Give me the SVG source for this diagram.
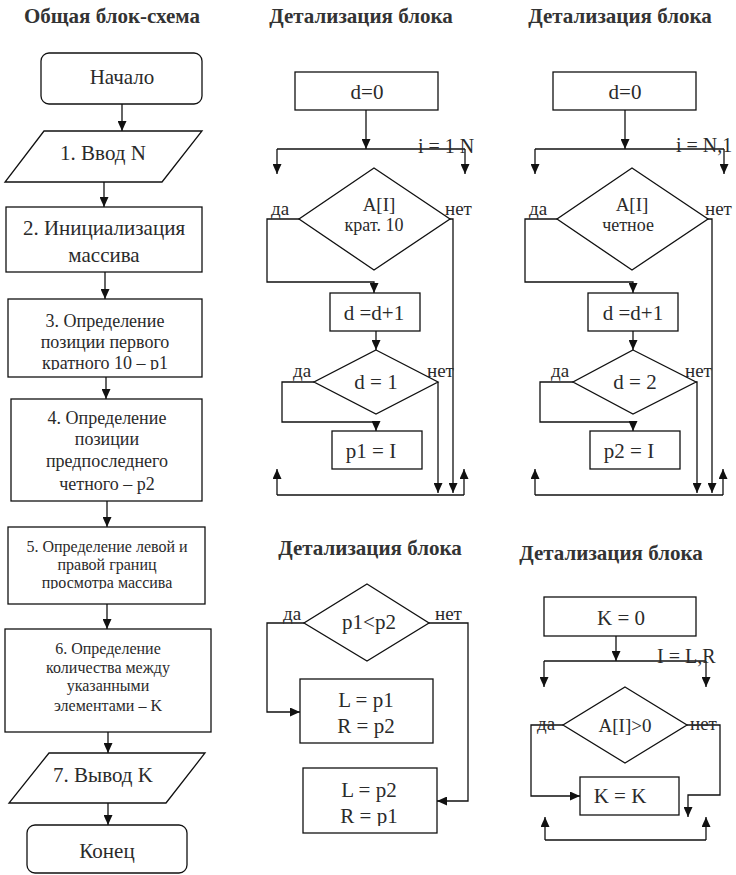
<svg xmlns="http://www.w3.org/2000/svg" width="736" height="875" viewBox="0 0 736 875">
  <style>
    .shape { fill: #fff; stroke: #111; stroke-width: 1.3; }
    .wire { fill: none; stroke: #111; stroke-width: 1.3; }
    .arrow { marker-end: url(#head); }
    text { font-family: "Liberation Serif", Tinos, "Times New Roman", Times, "DejaVu Serif", serif; fill: #2a2a2a; }
    .title { font-size: 21px; font-weight: bold; text-anchor: middle; fill: #333; }
    .big { font-size: 21px; text-anchor: middle; }
    .mid { font-size: 18px; text-anchor: middle; }
    .small { font-size: 16px; text-anchor: middle; }
    .op { font-size: 21px; text-anchor: middle; }
    .cond1 { font-size: 19px; text-anchor: middle; }
    .cond2 { font-size: 18px; text-anchor: middle; }
    .lbl { font-size: 19px; }
    .loop { font-size: 20px; }
  </style>
  <defs>
    <marker id="head" markerWidth="10" markerHeight="9" refX="10" refY="4.5" orient="auto" markerUnits="userSpaceOnUse">
      <path d="M0,0 L10,4.5 L0,9 z" fill="#111"/>
    </marker>
    <clipPath id="clip3"><rect x="0" y="299" width="240" height="71"/></clipPath>
    <clipPath id="clip5"><rect x="0" y="527" width="240" height="62"/></clipPath>
    <clipPath id="clipLR"><rect x="300" y="768" width="140" height="58"/></clipPath>
  </defs>

  <!-- headings -->
  <text class="title" x="112" y="23">Общая блок-схема</text>
  <text class="title" x="361" y="23">Детализация блока</text>
  <text class="title" x="620" y="23">Детализация блока</text>
  <text class="title" x="370" y="555">Детализация блока</text>
  <text class="title" x="611" y="560">Детализация блока</text>

  <!-- general flowchart -->
  <g id="start">
    <rect class="shape" x="41" y="53" width="161" height="51" rx="8"/>
    <text class="big" x="122" y="84">Начало</text>
  </g>
  <g id="input-n">
    <polygon class="shape" points="44,131 202,131 162,182 5,182"/>
    <text class="big" x="103" y="160">1. Ввод N</text>
  </g>
  <g id="init-array">
    <rect class="shape" x="6" y="207" width="196" height="65"/>
    <text class="big" x="104" y="235">2. Инициализация</text>
    <text class="big" x="104" y="262">массива</text>
  </g>
  <g id="find-p1">
    <rect class="shape" x="8" y="299" width="194" height="78"/>
    <g clip-path="url(#clip3)">
      <text class="mid" x="105" y="327">3. Определение</text>
      <text class="mid" x="105" y="348">позиции первого</text>
      <text class="mid" x="105" y="369">кратного 10 – p1</text>
    </g>
  </g>
  <g id="find-p2">
    <rect class="shape" x="11" y="399" width="191" height="102"/>
    <text class="mid" x="107" y="424">4. Определение</text>
    <text class="mid" x="107" y="445">позиции</text>
    <text class="mid" x="107" y="467">предпоследнего</text>
    <text class="mid" x="107" y="490">четного – p2</text>
  </g>
  <g id="find-bounds">
    <rect class="shape" x="8" y="527" width="197" height="77"/>
    <g clip-path="url(#clip5)">
      <text class="small" x="107" y="552">5. Определение левой и</text>
      <text class="small" x="107" y="570">правой границ</text>
      <text class="small" x="107" y="588">просмотра массива</text>
    </g>
  </g>
  <g id="count-k">
    <rect class="shape" x="5" y="629" width="206" height="103"/>
    <text class="small" x="108" y="654">6. Определение</text>
    <text class="small" x="108" y="673">количества между</text>
    <text class="small" x="108" y="691">указанными</text>
    <text class="small" x="108" y="711">элементами – K</text>
  </g>
  <g id="output-k">
    <polygon class="shape" points="49,753 205,753 166,803 9,803"/>
    <text class="big" x="103" y="782">7. Вывод K</text>
  </g>
  <g id="end">
    <rect class="shape" x="27" y="825" width="160" height="48" rx="8"/>
    <text class="big" x="107" y="858">Конец</text>
  </g>

  <!-- block 3 detail -->
  <g id="a-d0">
    <rect class="shape" x="295" y="72" width="143" height="38"/>
    <text class="op" x="367" y="99">d=0</text>
  </g>
  <g id="a-mult10">
    <polygon class="shape" points="374,168 450,219 374,270 299,219"/>
    <text class="cond1" x="379" y="211">A[I]</text>
    <text class="cond2" x="374" y="231">крат. 10</text>
  </g>
  <g id="a-inc">
    <rect class="shape" x="330" y="293" width="90" height="38"/>
    <text class="op" x="374" y="320">d =d+1</text>
  </g>
  <g id="a-d1">
    <polygon class="shape" points="376,350 438,382 376,414 314,382"/>
    <text class="op" x="376" y="389">d = 1</text>
  </g>
  <g id="a-p1">
    <rect class="shape" x="332" y="431" width="90" height="38"/>
    <text class="op" x="371" y="458">p1 = I</text>
  </g>

  <!-- block 4 detail -->
  <g id="b-d0">
    <rect class="shape" x="553" y="72" width="143" height="38"/>
    <text class="op" x="625" y="99">d=0</text>
  </g>
  <g id="b-even">
    <polygon class="shape" points="632,168 708,219 632,270 557,219"/>
    <text class="cond1" x="632" y="211">A[I]</text>
    <text class="cond2" x="628" y="231">четное</text>
  </g>
  <g id="b-inc">
    <rect class="shape" x="588" y="293" width="90" height="38"/>
    <text class="op" x="633" y="320">d =d+1</text>
  </g>
  <g id="b-d2">
    <polygon class="shape" points="633,350 696,382 633,414 573,382"/>
    <text class="op" x="635" y="389">d = 2</text>
  </g>
  <g id="b-p2">
    <rect class="shape" x="590" y="431" width="90" height="38"/>
    <text class="op" x="629" y="458">p2 = I</text>
  </g>

  <!-- block 5 detail -->
  <g id="c-cmp">
    <polygon class="shape" points="367,584 429,623 367,661 304,623"/>
    <text class="op" x="369" y="629">p1&lt;p2</text>
  </g>
  <g id="c-direct">
    <rect class="shape" x="300" y="679" width="133" height="64"/>
    <text class="op" x="366" y="707">L = p1</text>
    <text class="op" x="366" y="733">R = p2</text>
  </g>
  <g id="c-swap">
    <rect class="shape" x="303" y="768" width="134" height="65"/>
    <g clip-path="url(#clipLR)">
      <text class="op" x="369" y="797">L = p2</text>
      <text class="op" x="369" y="823">R = p1</text>
    </g>
  </g>

  <!-- block 6 detail -->
  <g id="d-k0">
    <rect class="shape" x="544" y="597" width="152" height="39"/>
    <text class="op" x="621" y="625">K = 0</text>
  </g>
  <g id="d-pos">
    <polygon class="shape" points="625,687 687,725 625,763 563,725"/>
    <text class="cond1" x="625" y="732">A[I]&gt;0</text>
  </g>
  <g id="d-kk">
    <rect class="shape" x="580" y="777" width="99" height="38"/>
    <text class="op" x="620" y="803">K = K</text>
  </g>

  <!-- connectors -->
  <g id="connectors">
    <!-- general flowchart -->
    <path class="wire arrow" d="M122,104 V131"/>
    <path class="wire arrow" d="M104,182 V207"/>
    <path class="wire arrow" d="M105,272 V299"/>
    <path class="wire arrow" d="M106,377 V399"/>
    <path class="wire arrow" d="M107,501 V527"/>
    <path class="wire arrow" d="M107,604 V629"/>
    <path class="wire arrow" d="M108,732 V753"/>
    <path class="wire arrow" d="M108,803 V825"/>

    <!-- block 3 detail -->
    <path class="wire arrow" d="M366,110 V149"/>
    <path class="wire" d="M277,149 H465"/>
    <path class="wire arrow" d="M277,149 V174"/>
    <path class="wire arrow" d="M465,149 V174"/>
    <path class="wire arrow" d="M299,219 H267 V282 H374 V293"/>
    <path class="wire arrow" d="M450,219 H453 V493"/>
    <path class="wire arrow" d="M376,331 V350"/>
    <path class="wire arrow" d="M314,382 H282 V422 H376 V431"/>
    <path class="wire arrow" d="M438,382 V493"/>
    <path class="wire" d="M277,495 H464"/>
    <path class="wire arrow" d="M277,495 V469"/>
    <path class="wire arrow" d="M464,495 V469"/>

    <!-- block 4 detail -->
    <path class="wire arrow" d="M625,110 V149"/>
    <path class="wire" d="M535,149 H724"/>
    <path class="wire arrow" d="M535,149 V174"/>
    <path class="wire arrow" d="M724,149 V174"/>
    <path class="wire arrow" d="M557,219 H525 V282 H633 V293"/>
    <path class="wire arrow" d="M708,219 H712 V493"/>
    <path class="wire arrow" d="M633,331 V350"/>
    <path class="wire arrow" d="M573,382 H540 V422 H633 V431"/>
    <path class="wire arrow" d="M696,382 H697 V493"/>
    <path class="wire" d="M535,495 H723"/>
    <path class="wire arrow" d="M535,495 V469"/>
    <path class="wire arrow" d="M723,495 V469"/>

    <!-- block 5 detail -->
    <path class="wire arrow" d="M304,623 H267 V712 H300"/>
    <path class="wire arrow" d="M429,623 H468 V801 H437"/>

    <!-- block 6 detail -->
    <path class="wire arrow" d="M616,636 V661"/>
    <path class="wire" d="M544,661 H706"/>
    <path class="wire arrow" d="M544,661 V687"/>
    <path class="wire arrow" d="M706,661 V687"/>
    <path class="wire arrow" d="M563,725 H531 V796 H580"/>
    <path class="wire arrow" d="M687,725 H720 V795 H688 V817"/>
    <path class="wire" d="M545,840 H706"/>
    <path class="wire arrow" d="M545,840 V817"/>
    <path class="wire arrow" d="M706,840 V817"/>
  </g>

  <!-- branch and loop labels -->
  <text class="lbl" x="271" y="215">да</text>
  <text class="lbl" x="445" y="215">нет</text>
  <text class="lbl" x="293" y="377">да</text>
  <text class="lbl" x="427" y="377">нет</text>
  <text class="loop" x="418" y="153">i = 1 N</text>

  <text class="lbl" x="529" y="215">да</text>
  <text class="lbl" x="705" y="215">нет</text>
  <text class="lbl" x="551" y="377">да</text>
  <text class="lbl" x="685" y="377">нет</text>
  <text class="loop" x="676" y="152">i = N,1</text>

  <text class="lbl" x="283" y="620">да</text>
  <text class="lbl" x="435" y="620">нет</text>

  <text class="lbl" x="537" y="730">да</text>
  <text class="lbl" x="690" y="730">нет</text>
  <text class="loop" x="657" y="663">I = L,R</text>
</svg>
